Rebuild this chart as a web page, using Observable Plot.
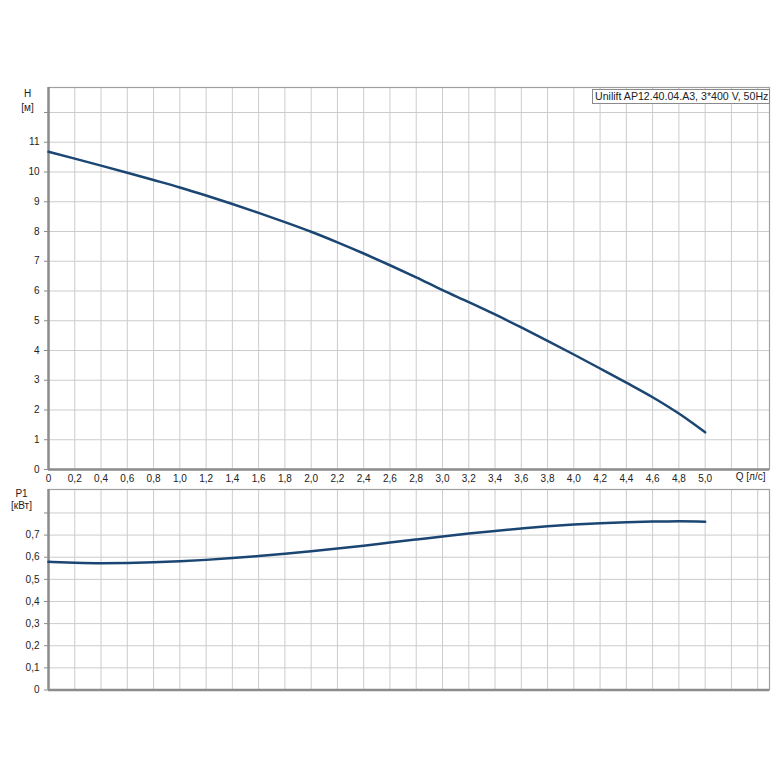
<!DOCTYPE html>
<html>
<head>
<meta charset="utf-8">
<script src="https://cdn.jsdelivr.net/npm/d3@7"></script>
<script src="https://cdn.jsdelivr.net/npm/@observablehq/plot@0.6"></script>
<style>
  html, body { margin: 0; padding: 0; background: #fff; }
  #wrap { position: relative; width: 780px; height: 780px; font-family: "Liberation Sans", Arial, sans-serif; }
  #wrap svg { position: absolute; left: 0; overflow: visible; }
  #legend { position: absolute; left: 592px; top: 89px; width: 178px; height: 15px; box-sizing: border-box;
            border: 1px solid #8a8a8a; background: #fff; font-size: 10.6px; line-height: 13px; color: #222;
            padding: 0 0 0 2px; white-space: nowrap; overflow: hidden; z-index: 3; }
</style>
</head>
<body>
<div id="wrap"><div id="legend"></div></div>
<script>
// ---- data ----
const legendText = "Unilift AP12.40.04.A3, 3*400 V, 50Hz";
const flowQ = [0, 0.2, 0.4, 0.6, 0.8, 1.0, 1.2, 1.4, 1.6, 1.8, 2.0, 2.2, 2.4, 2.6, 2.8, 3.0, 3.2, 3.4, 3.6, 3.8, 4.0, 4.2, 4.4, 4.6, 4.8, 5.0];
const headH = [10.68, 10.45, 10.215, 9.975, 9.73, 9.48, 9.21, 8.925, 8.625, 8.315, 7.99, 7.635, 7.26, 6.865, 6.455, 6.03, 5.625, 5.21, 4.775, 4.325, 3.865, 3.395, 2.92, 2.43, 1.88, 1.25];
const powerP1 = [0.579, 0.575, 0.573, 0.574, 0.577, 0.582, 0.588, 0.596, 0.605, 0.616, 0.627, 0.639, 0.652, 0.666, 0.680, 0.694, 0.707, 0.719, 0.730, 0.740, 0.748, 0.754, 0.758, 0.761, 0.762, 0.760];
const xTicks = [0, 0.2, 0.4, 0.6, 0.8, 1.0, 1.2, 1.4, 1.6, 1.8, 2.0, 2.2, 2.4, 2.6, 2.8, 3.0, 3.2, 3.4, 3.6, 3.8, 4.0, 4.2, 4.4, 4.6, 4.8, 5.0];
const xGrid = [...xTicks, 5.2, 5.4];
const hTicks = [0, 1, 2, 3, 4, 5, 6, 7, 8, 9, 10, 11, 12];
const hLabeled = [0, 1, 2, 3, 4, 5, 6, 7, 8, 9, 10, 11];
const pTicks = [0, 0.1, 0.2, 0.3, 0.4, 0.5, 0.6, 0.7, 0.8];
const pLabeled = [0, 0.1, 0.2, 0.3, 0.4, 0.5, 0.6, 0.7];
const xLabel = "Q [л/с]";
const hLabel = "H\n[м]";
const pLabel = "P1\n[кВт]";

const headData = flowQ.map((q, i) => ({q, v: headH[i]}));
const powerData = flowQ.map((q, i) => ({q, v: powerP1[i]}));

const fmt = d => d === 0 ? "0" : d.toFixed(1).replace(".", ",");
const gridColor = "#cccccc";
const axisColor = "#8c8c8c";
const curveColor = "#1b4673";
const style = {fontFamily: "'Liberation Sans', Arial, sans-serif", fontSize: "10px", color: "#222", background: "transparent"};

const topPlot = Plot.plot({
  width: 780, height: 484,
  marginLeft: 48, marginRight: 11, marginTop: 87, marginBottom: 15,
  style,
  x: {domain: [0, 5.49]},
  y: {domain: [0, 12.84]},
  marks: [
    Plot.gridX(xGrid.slice(1), {stroke: gridColor, strokeOpacity: 1}),
    Plot.gridY(hTicks.slice(1), {stroke: gridColor, strokeOpacity: 1}),
    Plot.frame({stroke: "#a0a0a0", strokeWidth: 1.2}),
    Plot.axisX(xTicks, {tickFormat: fmt, tickSize: 0, tickPadding: 5, label: null}),
    Plot.axisY(hLabeled, {tickFormat: d => String(d), tickSize: 4, tickPadding: 5, label: null, stroke: axisColor}),
    Plot.axisY([12], {tickFormat: () => "", tickSize: 4, label: null, stroke: axisColor}),
    Plot.ruleX([0], {stroke: axisColor, strokeWidth: 2.5}),
    Plot.ruleY([0], {stroke: axisColor, strokeWidth: 2.5}),
    Plot.line(headData, {x: "q", y: "v", stroke: curveColor, strokeWidth: 2.5, curve: "monotone-x"}),
    Plot.text([xLabel], {frameAnchor: "bottom-right", dy: 10, dx: -4, textAnchor: "end", text: d => d, fill: "#222"}),
    Plot.text([hLabel], {frameAnchor: "top-left", dx: -21, dy: 0, lineAnchor: "top", lineHeight: 1.35, textAnchor: "middle", text: d => d, fill: "#222"})
  ]
});
topPlot.style.top = "0px";

const botPlot = Plot.plot({
  width: 780, height: 295,
  marginLeft: 48, marginRight: 11, marginTop: 4, marginBottom: 90.5,
  style,
  x: {domain: [0, 5.49], axis: null},
  y: {domain: [0, 0.906]},
  marks: [
    Plot.gridX(xGrid.slice(1), {stroke: gridColor, strokeOpacity: 1}),
    Plot.gridY(pTicks.slice(1), {stroke: gridColor, strokeOpacity: 1}),
    Plot.frame({stroke: "#a0a0a0", strokeWidth: 1.2}),
    Plot.axisY(pLabeled, {tickFormat: fmt, tickSize: 4, tickPadding: 5, label: null, stroke: axisColor}),
    Plot.axisY([0.8], {tickFormat: () => "", tickSize: 4, label: null, stroke: axisColor}),
    Plot.ruleX([0], {stroke: axisColor, strokeWidth: 2.5}),
    Plot.ruleY([0], {stroke: axisColor, strokeWidth: 2.5}),
    Plot.line(powerData, {x: "q", y: "v", stroke: curveColor, strokeWidth: 2.5, curve: "monotone-x"}),
    Plot.text([pLabel], {frameAnchor: "top-left", dx: -27, dy: -1, lineAnchor: "top", lineHeight: 1.2, textAnchor: "middle", text: d => d, fill: "#222"})
  ]
});
botPlot.style.top = "485px";

const wrap = document.getElementById("wrap");
wrap.appendChild(topPlot);
wrap.appendChild(botPlot);
document.getElementById("legend").textContent = legendText;
</script>
</body>
</html>
